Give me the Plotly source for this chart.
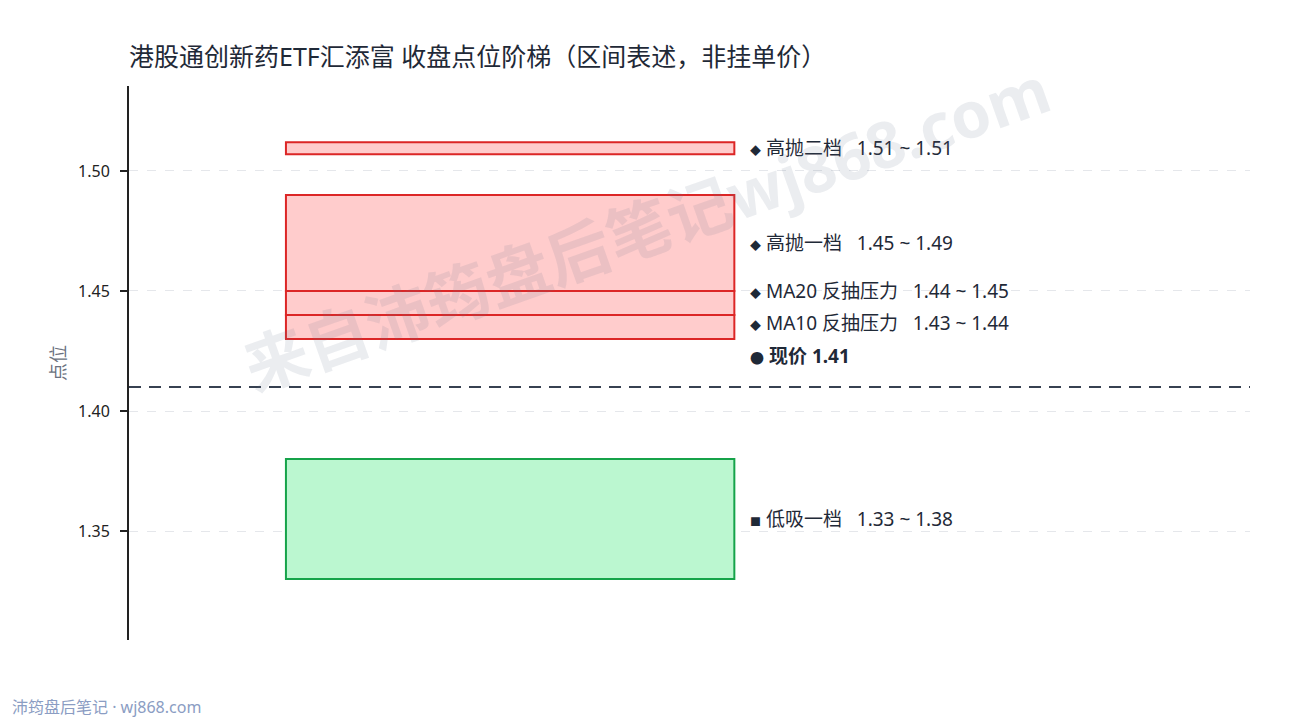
import plotly.graph_objects as go

# zones (low / high) and the current close
zone_names = ["高抛二档", "高抛一档", "MA20 反抽压力", "MA10 反抽压力", "低吸一档"]
zone_low = [1.507, 1.45, 1.44, 1.43, 1.33]
zone_high = [1.512, 1.49, 1.45, 1.44, 1.38]
zone_side = ["sell", "sell", "sell", "sell", "buy"]
current_price = 1.41

title = "港股通创新药ETF汇添富 收盘点位阶梯（区间表述，非挂单价）"
footer = "沛筠盘后笔记 · wj868.com"
watermark = "来自沛筠盘后笔记wj868.com"

FONT = "Noto Sans, Noto Sans CJK SC, sans-serif"
TXT = "#1f2937"

fig = go.Figure()
# invisible trace so the axes exist
fig.add_trace(go.Scatter(x=[0, 1], y=[min(zone_low), max(zone_high)], mode="markers",
                         marker=dict(opacity=0), hoverinfo="skip", showlegend=False))

styles = {
    "sell": dict(fill="rgba(255,0,0,0.2)", line="#dc2626"),
    "buy": dict(fill="#bbf7d0", line="#16a34a"),
}

for lo, hi, side in zip(zone_low, zone_high, zone_side):
    st = styles[side]
    fig.add_shape(type="rect", xref="x", yref="y", x0=0.14, x1=0.54, y0=lo, y1=hi,
                  fillcolor=st["fill"], line=dict(color=st["line"], width=2), layer="above")

fig.add_shape(type="line", xref="paper", yref="y", x0=0, x1=1, y0=current_price, y1=current_price,
              line=dict(color="#374151", width=2, dash="12px,8px"))

# label positions, pushed apart so they don't overlap
labels = []
for name, lo, hi, side in zip(zone_names, zone_low, zone_high, zone_side):
    mark = "◆" if side == "sell" else "■"
    txt = f"<span style='font-size:11px'>{mark}</span> {name}\u00a0\u00a0\u00a0{lo:.2f} ~ {hi:.2f}"
    labels.append([(lo + hi) / 2, txt, False])
labels.append([current_price + 0.013, f"<span style='font-size:14px'>●</span> <b>现价 {current_price:.2f}</b>", True])

labels.sort(key=lambda r: r[0])
gap = 0.0135
for i in range(1, len(labels)):
    if labels[i][0] < labels[i - 1][0] + gap:
        labels[i][0] = labels[i - 1][0] + gap

for y, txt, bold in labels:
    fig.add_annotation(x=0.552, y=y, xref="x", yref="y", text=txt, showarrow=False,
                       xanchor="left", yanchor="middle",
                       font=dict(family=FONT, size=19, color=TXT))

# watermark
fig.add_annotation(x=0.462, y=0.744, xref="paper", yref="paper", text=f"<b>{watermark}</b>",
                   showarrow=False, textangle=-19.5, xanchor="center", yanchor="middle",
                   font=dict(family=FONT, size=64, color="rgba(100,116,139,0.13)"))

# footer
fig.add_annotation(x=-0.106, y=-0.121, xref="paper", yref="paper", text=footer,
                   showarrow=False, xanchor="left", yanchor="middle",
                   font=dict(family=FONT, size=16, color="#8b9dc3"))

# page body adds an 8px offset, so margins are trimmed by 8px on the left/top
fig.update_layout(
    width=1290, height=720,
    margin=dict(l=121, r=48, t=78, b=88),
    paper_bgcolor="white", plot_bgcolor="white",
    font=dict(family=FONT, color=TXT),
    title=dict(text=title, x=121 / 1290, xanchor="left", y=1 - 49 / 720, yanchor="middle",
               font=dict(family=FONT, size=25, color=TXT)),
    xaxis=dict(visible=False, range=[0, 1]),
    yaxis=dict(range=[1.3046, 1.5354], dtick=0.05, tick0=1.35, tickformat=".2f",
               showline=True, linecolor="#222", linewidth=2,
               ticks="outside", ticklen=7, tickcolor="#222", tickwidth=1.5,
               ticklabelstandoff=7,
               tickfont=dict(family=FONT, size=16, color="#222"),
               showgrid=True, gridcolor="#e5e7eb", griddash="dash", zeroline=False,
               title=dict(text="点位", font=dict(family=FONT, size=18, color="#6b7280"), standoff=8)),
    showlegend=False,
)

fig.write_html("out.html")
